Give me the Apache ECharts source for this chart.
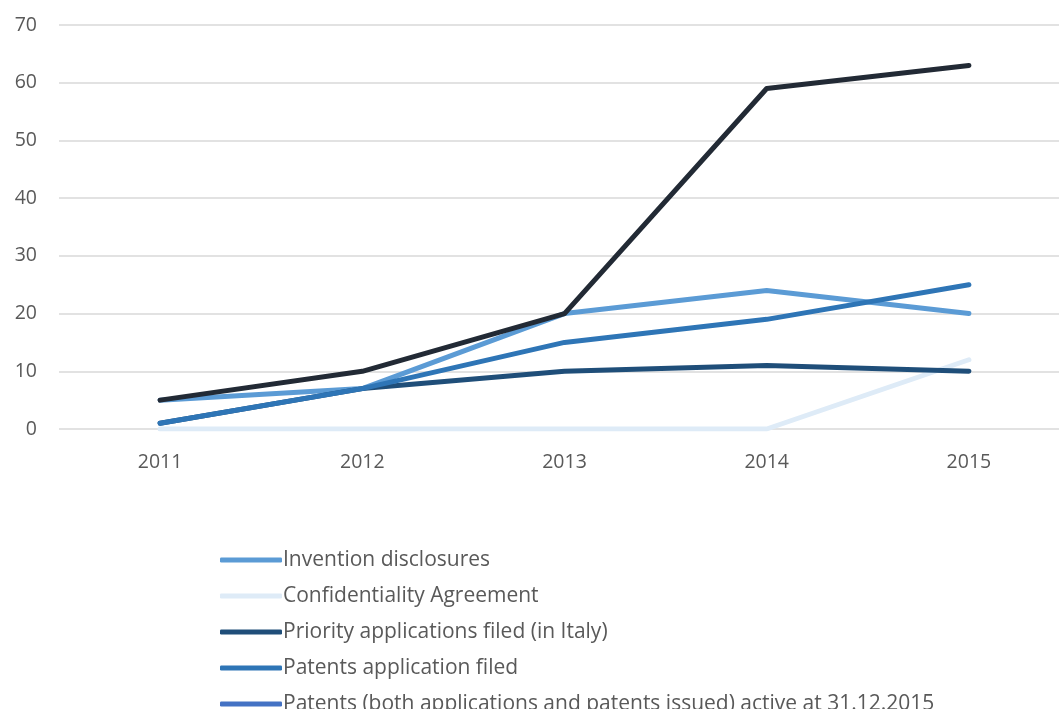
<!DOCTYPE html>
<html>
<head>
<meta charset="utf-8">
<script src="https://cdn.jsdelivr.net/npm/echarts@6/dist/echarts.min.js"></script>
<style>
  html, body { margin: 0; padding: 0; background: #fff; }
  #main { width: 1059px; height: 709px; }
</style>
</head>
<body>
<div id="main"></div>
<script>
    // data
    var years = ['2011', '2012', '2013', '2014', '2015'];
    var inventionDisclosures = [5, 7, 20, 24, 20];
    var confidentiality = [0, 0, 0, 0, 12];
    var priorityApps = [1, 7, 10, 11, 10];
    var patentsFiled = [1, 7, 15, 19, 25];
    var patentsActive = [null, null, null, null, null]; // not visible in the plot
    var totalLine = [5, 10, 20, 59, 63]; // legend entry is cut off in the original
    var yTicks = [0, 10, 20, 30, 40, 50, 60, 70];

    var names = [
        'Invention disclosures',
        'Confidentiality Agreement',
        'Priority applications filed (in Italy)',
        'Patents application filed',
        'Patents (both applications and patents issued) active at 31.12.2015'
    ];
    var colors = ['#5B9BD5', '#DEEBF7', '#1F4E79', '#2E75B6', '#4472C4', '#222A35'];

    function lineSeries(name, data, color) {
        return {
            name: name,
            type: 'line',
            data: data,
            symbol: 'none',
            lineStyle: { color: color, width: 5, cap: 'round', join: 'round' },
            itemStyle: { color: color }
        };
    }

    var myChart = echarts.init(document.getElementById('main'));
    var option = {
        backgroundColor: '#ffffff',
        animation: false,
        grid: { left: 59, width: 1011, top: 25, height: 404, containLabel: false, outerBoundsMode: 'none' },
        legend: {
            orient: 'vertical',
            left: 220,
            top: 549,
            height: 300,
            padding: 0,
            data: names,
            icon: 'roundRect',
            itemWidth: 62,
            itemHeight: 5,
            itemGap: 14,
            textStyle: { color: '#595959', fontSize: 21, fontFamily: 'Open Sans', lineHeight: 22, padding: [0, 0, 0, -4] }
        },
        xAxis: {
            type: 'category',
            data: years,
            boundaryGap: true,
            axisLine: { show: false },
            axisTick: { show: false },
            axisLabel: { color: '#595959', fontSize: 19.5, fontFamily: 'Open Sans', margin: 23 }
        },
        yAxis: {
            type: 'value',
            min: yTicks[0],
            max: yTicks[yTicks.length - 1],
            interval: 10,
            axisLine: { show: false },
            axisTick: { show: false },
            axisLabel: { color: '#595959', fontSize: 19.5, fontFamily: 'Open Sans', margin: 22 },
            splitLine: { lineStyle: { color: '#d9d9d9', width: 1.5 } }
        },
        series: [
            lineSeries(names[0], inventionDisclosures, colors[0]),
            lineSeries(names[1], confidentiality, colors[1]),
            lineSeries(names[2], priorityApps, colors[2]),
            lineSeries(names[3], patentsFiled, colors[3]),
            lineSeries(names[4], patentsActive, colors[4]),
            lineSeries('Total', totalLine, colors[5])
        ]
    };
    myChart.setOption(option);
</script>
</body>
</html>
